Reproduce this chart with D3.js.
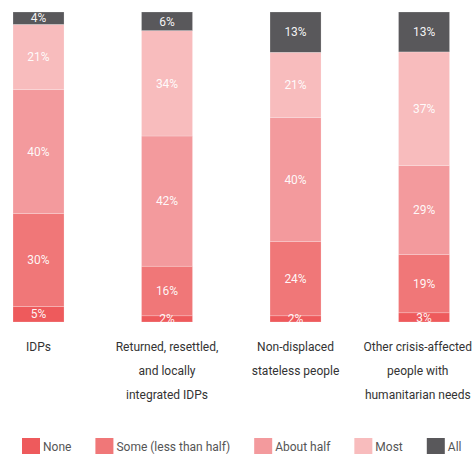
<!DOCTYPE html>
<html>
<head>
<meta charset="utf-8">
<script src="https://cdn.jsdelivr.net/npm/d3@7"></script>
<style>
  body { margin: 0; background: #fff; }
  svg text { font-family: Roboto, "Noto Sans", sans-serif; }
</style>
</head>
<body>
<svg id="chart"></svg>
<script>
// groups on the x axis (each label split into lines)
const categories = ["IDPs", "Returned", "Non-displaced", "Other"]
const categoryLines = [
  ["IDPs"],
  ["Returned, resettled,", "and locally", "integrated IDPs"],
  ["Non-displaced", "stateless people"],
  ["Other crisis-affected", "people with", "humanitarian needs"]
]
const seriesKeys = ["None", "Some (less than half)", "About half", "Most", "All"]
// values in %, per series, in the order of categories
const noneVals = [5, 2, 2, 3]
const someVals = [30, 16, 24, 19]
const halfVals = [40, 42, 40, 29]
const mostVals = [21, 34, 21, 37]
const allVals  = [4, 6, 13, 13]
const colors = ["#ee5a5c", "#f07778", "#f39a9d", "#f8bcbd", "#59585b"]

const width = 475, height = 454
const plotTop = 12, plotBottom = 322

const svg = d3.select("#chart").attr("width", width).attr("height", height)

const rows = categories.map((c, i) => ({
  cat: c,
  "None": noneVals[i],
  "Some (less than half)": someVals[i],
  "About half": halfVals[i],
  "Most": mostVals[i],
  "All": allVals[i]
}))

const stack = d3.stack().keys(seriesKeys).offset(d3.stackOffsetExpand)
const series = stack(rows)

const x = d3.scaleBand()
  .domain(categories)
  .range([0.15, 462.4])
  .paddingInner(0.603)
  .paddingOuter(0.1)

const y = d3.scaleLinear().domain([0, 1]).range([plotBottom, plotTop])
const color = d3.scaleOrdinal().domain(seriesKeys).range(colors)

svg.append("defs").append("clipPath").attr("id", "plot")
  .append("rect").attr("x", 0).attr("y", plotTop).attr("width", width).attr("height", plotBottom - plotTop)

const plot = svg.append("g").attr("clip-path", "url(#plot)")

const layer = plot.selectAll("g.layer")
  .data(series)
  .enter().append("g")
  .attr("class", "layer")
  .attr("fill", d => color(d.key))

layer.selectAll("rect")
  .data(d => d)
  .enter().append("rect")
  .attr("x", d => x(d.data.cat))
  .attr("y", d => y(d[1]))
  .attr("width", x.bandwidth())
  .attr("height", d => y(d[0]) - y(d[1]))
  .attr("stroke", "#fff")
  .attr("stroke-opacity", 0.35)
  .attr("stroke-width", 0.6)

// value labels
series.forEach(s => {
  plot.selectAll(null)
    .data(s)
    .enter().append("text")
    .attr("x", d => x(d.data.cat) + x.bandwidth() / 2)
    .attr("y", d => (y(d[0]) + y(d[1])) / 2)
    .attr("dy", "0.35em")
    .attr("text-anchor", "middle")
    .attr("fill", "#fff")
    .attr("fill-opacity", 0.95)
    .style("font-size", "12px")
    .text(d => d.data[s.key] + "%")
})

// category labels under bars (pulled in if they would run off the right edge)
categories.forEach((c, i) => {
  let cx = x(c) + x.bandwidth() / 2
  const t = svg.append("text")
    .attr("text-anchor", "middle")
    .attr("fill", "#333")
    .style("font-size", "12px")
  const spans = categoryLines[i].map((line, j) =>
    t.append("tspan")
      .attr("x", cx)
      .attr("y", 351 + j * 24)
      .text(line))
  const maxW = d3.max(spans, s => s.node().getComputedTextLength())
  if (cx + maxW / 2 > width - 3) {
    cx = width - 3 - maxW / 2
    spans.forEach(s => s.attr("x", cx))
  }
})

// legend
const legend = svg.append("g").attr("transform", "translate(22,438)")
let lx = 0
seriesKeys.forEach(k => {
  const g = legend.append("g").attr("transform", "translate(" + lx + ",0)")
  g.append("rect").attr("width", 18).attr("height", 16).attr("fill", color(k))
  const t = g.append("text")
    .attr("x", 21)
    .attr("y", 13)
    .attr("fill", "#555")
    .style("font-size", "12px")
    .text(k)
  lx += 21 + t.node().getComputedTextLength() + 24
})
</script>
</body>
</html>
